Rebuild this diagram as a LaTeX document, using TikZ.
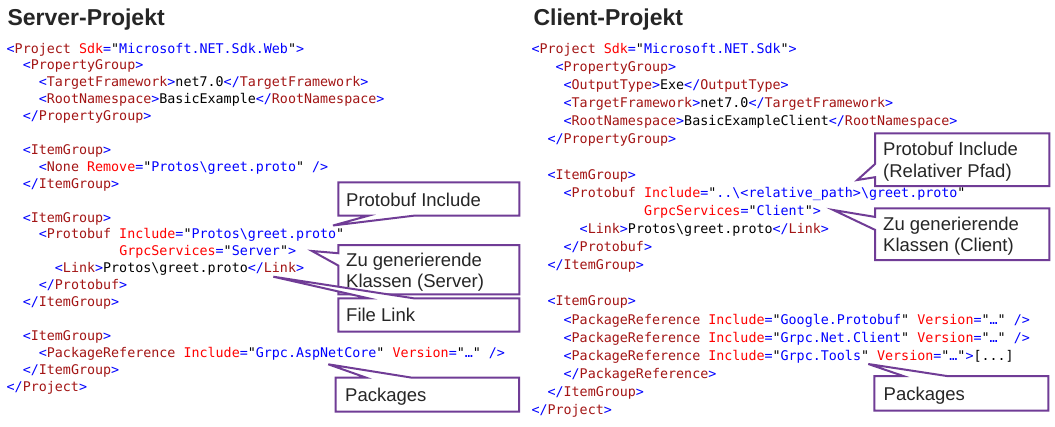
\documentclass[tikz,border=0pt]{standalone}
\usepackage{fontspec}
\setmainfont{Liberation Sans}
\newfontfamily\codefont{DejaVu Sans Mono}
\usetikzlibrary{calc}
\definecolor{cblue}{RGB}{0,0,255}
\definecolor{ctag}{RGB}{163,21,21}
\definecolor{cattr}{RGB}{255,0,0}
\definecolor{copurple}{RGB}{112,60,150}
\definecolor{ink}{RGB}{38,38,38}
\newlength\cw
\setlength\cw{8.04pt}
\newcommand\cB[1]{\textcolor{cblue}{#1}}
\newcommand\cT[1]{\textcolor{ctag}{#1}}
\newcommand\cA[1]{\textcolor{cattr}{#1}}
\newcommand\oT[1]{\cB{<}\cT{#1}\cB{>}}
\newcommand\eT[1]{\cB{</}\cT{#1}\cB{>}}
\newcommand\aV[2]{\cA{#1}\cB{=}"\cB{#2}"}
\newcommand\cI[1]{\hspace*{#1\cw}}
\newcommand\cbs{\textbackslash}
% callout shapes: L T R B tip
\newcommand\cwBottom[5]{\draw[co] (#1,#2) -- (#3,#2) -- (#3,#4) -- ({#1+5/12*(#3-#1)},#4) -- (#5) -- ({#1+2/12*(#3-#1)},#4) -- (#1,#4) -- cycle;}
\newcommand\cwTop[5]{\draw[co] (#1,#2) -- ({#1+2/12*(#3-#1)},#2) -- (#5) -- ({#1+5/12*(#3-#1)},#2) -- (#3,#2) -- (#3,#4) -- (#1,#4) -- cycle;}
\newcommand\cwLeft[7]{\draw[co] (#1,#2) -- (#3,#2) -- (#3,#4) -- (#1,#4) -- (#1,{#2+#7*(#4-#2)}) -- (#5) -- (#1,{#2+#6*(#4-#2)}) -- cycle;}
\tikzset{
  code/.style={font=\codefont\fontsize{13.35}{16}\selectfont, inner sep=0pt, anchor=base west},
  title/.style={font=\bfseries\fontsize{23}{27}\selectfont, text=ink, inner sep=0pt, anchor=base west},
  cotext/.style={font=\fontsize{18.5}{21.5}\selectfont, text=ink, inner sep=0pt, anchor=base west},
  co/.style={draw=copurple, line width=2pt, fill=white, line join=miter},
}
\begin{document}
\begin{tikzpicture}[x=1pt,y=-1pt]
\path[use as bounding box, fill=white] (0,0) rectangle (1055,426);
% titles
\node[title] (ts) at (7.3,25) {Server-Projekt};
\node[title] (tc) at (533.3,25) {Client-Projekt};
% server code
\node[code] (s0) at (6.5,53) {\cB{<}\cT{Project} \aV{Sdk}{Microsoft.NET.Sdk.Web}\cB{>}};
\node[code] (s1) at (6.5,69.9) {\cI{2}\oT{PropertyGroup}};
\node[code] (s2) at (6.5,86.8) {\cI{4}\oT{TargetFramework}net7.0\eT{TargetFramework}};
\node[code] (s3) at (6.5,103.7) {\cI{4}\oT{RootNamespace}BasicExample\eT{RootNamespace}};
\node[code] (s4) at (6.5,120.6) {\cI{2}\eT{PropertyGroup}};
\node[code] (s6) at (6.5,154.4) {\cI{2}\oT{ItemGroup}};
\node[code] (s7) at (6.5,171.3) {\cI{4}\cB{<}\cT{None} \aV{Remove}{Protos\cbs{}greet.proto} \cB{/>}};
\node[code] (s8) at (6.5,188.2) {\cI{2}\eT{ItemGroup}};
\node[code] (s10) at (6.5,222) {\cI{2}\oT{ItemGroup}};
\node[code] (s11) at (6.5,238.9) {\cI{4}\cB{<}\cT{Protobuf} \aV{Include}{Protos\cbs{}greet.proto}};
\node[code] (s12) at (6.5,255.8) {\cI{14}\aV{GrpcServices}{Server}\cB{>}};
\node[code] (s13) at (6.5,272.7) {\cI{6}\oT{Link}Protos\cbs{}greet.proto\eT{Link}};
\node[code] (s14) at (6.5,289.6) {\cI{4}\eT{Protobuf}};
\node[code] (s15) at (6.5,306.5) {\cI{2}\eT{ItemGroup}};
\node[code] (s17) at (6.5,340.3) {\cI{2}\oT{ItemGroup}};
\node[code] (s18) at (6.5,357.2) {\cI{4}\cB{<}\cT{PackageReference} \aV{Include}{Grpc.AspNetCore} \aV{Version}{…} \cB{/>}};
\node[code] (s19) at (6.5,374.1) {\cI{2}\eT{ItemGroup}};
\node[code] (s20) at (6.5,391) {\eT{Project}};
% client code
\node[code] (c0) at (531.3,53) {\cB{<}\cT{Project} \aV{Sdk}{Microsoft.NET.Sdk}\cB{>}};
\node[code] (c1) at (531.3,71.07) {\cI{3}\oT{PropertyGroup}};
\node[code] (c2) at (531.3,89.14) {\cI{4}\oT{OutputType}Exe\eT{OutputType}};
\node[code] (c3) at (531.3,107.21) {\cI{4}\oT{TargetFramework}net7.0\eT{TargetFramework}};
\node[code] (c4) at (531.3,125.28) {\cI{4}\oT{RootNamespace}BasicExampleClient\eT{RootNamespace}};
\node[code] (c5) at (531.3,143.35) {\cI{2}\eT{PropertyGroup}};
\node[code] (c7) at (531.3,179.49) {\cI{2}\oT{ItemGroup}};
\node[code] (c8) at (531.3,197.56) {\cI{4}\cB{<}\cT{Protobuf} \aV{Include}{..\cbs{}<relative\_path>\cbs{}greet.proto}};
\node[code] (c9) at (531.3,215.63) {\cI{14}\aV{GrpcServices}{Client}\cB{>}};
\node[code] (c10) at (531.3,233.7) {\cI{6}\oT{Link}Protos\cbs{}greet.proto\eT{Link}};
\node[code] (c11) at (531.3,251.77) {\cI{4}\eT{Protobuf}};
\node[code] (c12) at (531.3,269.84) {\cI{2}\eT{ItemGroup}};
\node[code] (c14) at (531.3,305.98) {\cI{2}\oT{ItemGroup}};
\node[code] (c15) at (531.3,324.05) {\cI{4}\cB{<}\cT{PackageReference} \aV{Include}{Google.Protobuf} \aV{Version}{…} \cB{/>}};
\node[code] (c16) at (531.3,342.12) {\cI{4}\cB{<}\cT{PackageReference} \aV{Include}{Grpc.Net.Client} \aV{Version}{…} \cB{/>}};
\node[code] (c17) at (531.3,360.19) {\cI{4}\cB{<}\cT{PackageReference} \aV{Include}{Grpc.Tools} \aV{Version}{…}\cB{>}[...]};
\node[code] (c18) at (531.3,378.26) {\cI{4}\eT{PackageReference}};
\node[code] (c19) at (531.3,396.33) {\cI{2}\eT{ItemGroup}};
\node[code] (c20) at (531.3,414.4) {\eT{Project}};
% callout tips
\coordinate (tPI) at (333,225.5);
\coordinate (tZG) at (312,251);
\coordinate (tFL) at (273.3,276.7);
\coordinate (tPK) at (328.3,364.3);
\coordinate (tPR) at (857.3,180);
\coordinate (tZC) at (833.3,210);
\coordinate (tPC) at (868.3,364);
% left callouts
\cwBottom{338.3}{182.3}{519.3}{215.7}{tPI}
\node[cotext] (lPI) at (346,206) {Protobuf Include};
\cwLeft{338.3}{245}{519.3}{294.3}{tZG}{2/12}{5/12}
\node[cotext] (lZG1) at (346,266) {Zu generierende};
\node[cotext] (lZG2) at (346,287) {Klassen (Server)};
\cwTop{338.3}{298.3}{519.3}{331.7}{tFL}
\node[cotext] (lFL) at (346,321.5) {File Link};
\cwTop{335.7}{377.7}{519}{411.7}{tPK}
\node[cotext] (lPK) at (345,401.7) {Packages};
% right callouts
\cwLeft{875}{133.3}{1049.3}{186}{tPR}{7/12}{10/12}
\node[cotext] (rPR1) at (883,155.7) {Protobuf Include};
\node[cotext] (rPR2) at (883,177) {(Relativer Pfad)};
\cwLeft{875}{208.3}{1049.3}{260}{tZC}{2/12}{5/12}
\node[cotext] (rZC1) at (883,230) {Zu generierende};
\node[cotext] (rZC2) at (883,251.5) {Klassen (Client)};
\cwTop{874.3}{376}{1048.3}{410.7}{tPC}
\node[cotext] (rPK) at (883.5,400) {Packages};
\end{tikzpicture}
\end{document}
